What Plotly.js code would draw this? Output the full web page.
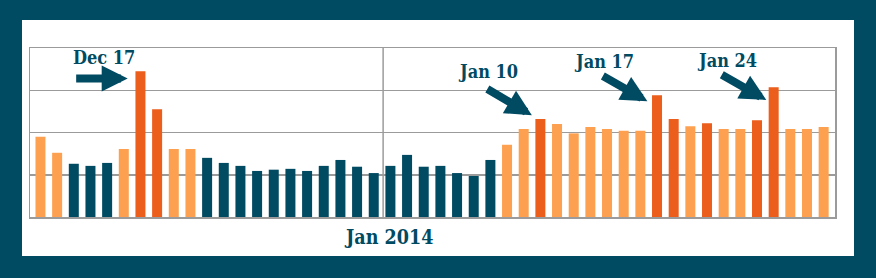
<!DOCTYPE html>
<html><head><meta charset="utf-8">
<script src="https://cdn.plot.ly/plotly-3.0.1.min.js"></script>
<style>
html,body{margin:0;padding:0;background:#004a62;width:876px;height:278px;overflow:hidden}
#chart{position:absolute;left:22px;top:20px;width:832px;height:236px;background:#fff}
</style></head><body><div id="chart"></div>
<script>
const dates = [
  '2013-12-11','2013-12-12','2013-12-13','2013-12-14','2013-12-15','2013-12-16','2013-12-17',
  '2013-12-18','2013-12-19','2013-12-20','2013-12-21','2013-12-22','2013-12-23','2013-12-24',
  '2013-12-25','2013-12-26','2013-12-27','2013-12-28','2013-12-29','2013-12-30','2013-12-31',
  '2014-01-01','2014-01-02','2014-01-03','2014-01-04','2014-01-05','2014-01-06','2014-01-07',
  '2014-01-08','2014-01-09','2014-01-10','2014-01-11','2014-01-12','2014-01-13','2014-01-14',
  '2014-01-15','2014-01-16','2014-01-17','2014-01-18','2014-01-19','2014-01-20','2014-01-21',
  '2014-01-22','2014-01-23','2014-01-24','2014-01-25','2014-01-26','2014-01-27'
];
const values = [
  1.90,1.52,1.26,1.21,1.28,1.61,3.45,
  2.55,1.61,1.61,1.40,1.28,1.21,1.09,
  1.12,1.14,1.09,1.21,1.35,1.19,1.04,
  1.21,1.47,1.19,1.21,1.04,0.97,1.35,
  1.71,2.08,2.32,2.20,1.98,2.13,2.08,
  2.04,2.04,2.88,2.32,2.15,2.22,2.08,
  2.08,2.29,3.07,2.08,2.08,2.13
];
// N = normal (teal), L = elevated (light orange), H = high (dark orange)
const levels = [
  'L','L','N','N','N','L','H',
  'H','L','L','N','N','N','N',
  'N','N','N','N','N','N','N',
  'N','N','N','N','N','N','N',
  'L','L','H','L','L','L','L',
  'L','L','H','H','L','H','L',
  'L','H','H','L','L','L'
];
const monthLabel = 'Jan 2014';
const calloutLabels = ['Dec 17','Jan 10','Jan 17','Jan 24'];

const TEAL = '#004a62', LIGHT = '#fda050', DARK = '#ec5e1c', GRID = '#9b9b9b';
const colorOf = {N: TEAL, L: LIGHT, H: DARK};
const FONT = 'DejaVu Serif Condensed, DejaVu Serif, serif';

const trace = {
  type: 'bar', x: dates, y: values,
  marker: {color: levels.map(l => colorOf[l]), line: {width: 0}},
  hoverinfo: 'skip'
};

function textAnn(text, x, y, size) {
  return {text, x, y, xref: 'x', yref: 'y', showarrow: false, xanchor: 'center', yanchor: 'middle',
    font: {family: FONT, size: size, color: TEAL, weight: 'bold'}};
}
function arrowAnn(x, y, ax, ay) {
  return {text: '', x, y, xref: 'x', yref: 'y', showarrow: true, ax, ay, axref: 'pixel', ayref: 'pixel',
    arrowcolor: TEAL, arrowwidth: 8, arrowhead: 2, arrowsize: 0.65, standoff: 0};
}

const layout = {
  width: 832, height: 236,
  margin: {l: 8, r: 19, t: 28, b: 39},
  paper_bgcolor: '#ffffff', plot_bgcolor: '#ffffff',
  bargap: 0.4, showlegend: false,
  xaxis: {type: 'date', range: ['2013-12-10 08:55', '2014-01-27 16:20'], showgrid: false, zeroline: false,
    showticklabels: false, ticks: '', showline: true, mirror: true, linecolor: GRID, linewidth: 1.5},
  yaxis: {range: [0, 4], dtick: 1, showgrid: true, gridcolor: GRID, gridwidth: 1.5, zeroline: false,
    showticklabels: false, ticks: '', showline: true, mirror: true, linecolor: GRID, linewidth: 1.5},
  shapes: [{type: 'line', xref: 'x', yref: 'paper', x0: '2013-12-31 13:30', x1: '2013-12-31 13:30', y0: 0, y1: 1,
    line: {color: GRID, width: 1.5}, layer: 'below'}],
  annotations: [
    textAnn(calloutLabels[0], '2013-12-14 19:00', 3.78, 18),
    arrowAnn('2013-12-16 05:35', 3.28, -53, 0),
    textAnn(calloutLabels[1], '2014-01-06 20:10', 3.44, 18),
    arrowAnn('2014-01-09 11:45', 2.41, -46, -27),
    textAnn(calloutLabels[2], '2014-01-13 19:10', 3.69, 18),
    arrowAnn('2014-01-16 10:05', 2.74, -46, -26),
    textAnn(calloutLabels[3], '2014-01-21 04:20', 3.71, 18),
    arrowAnn('2014-01-23 13:25', 2.77, -46, -26),
    {text: monthLabel, x: '2013-12-31 20:50', y: 0, xref: 'x', yref: 'paper', yshift: -20, showarrow: false,
      xanchor: 'center', yanchor: 'middle', font: {family: FONT, size: 19.5, color: TEAL, weight: 'bold'}}
  ]
};

Plotly.newPlot('chart', [trace], layout, {staticPlot: true, displayModeBar: false});
</script></body></html>
